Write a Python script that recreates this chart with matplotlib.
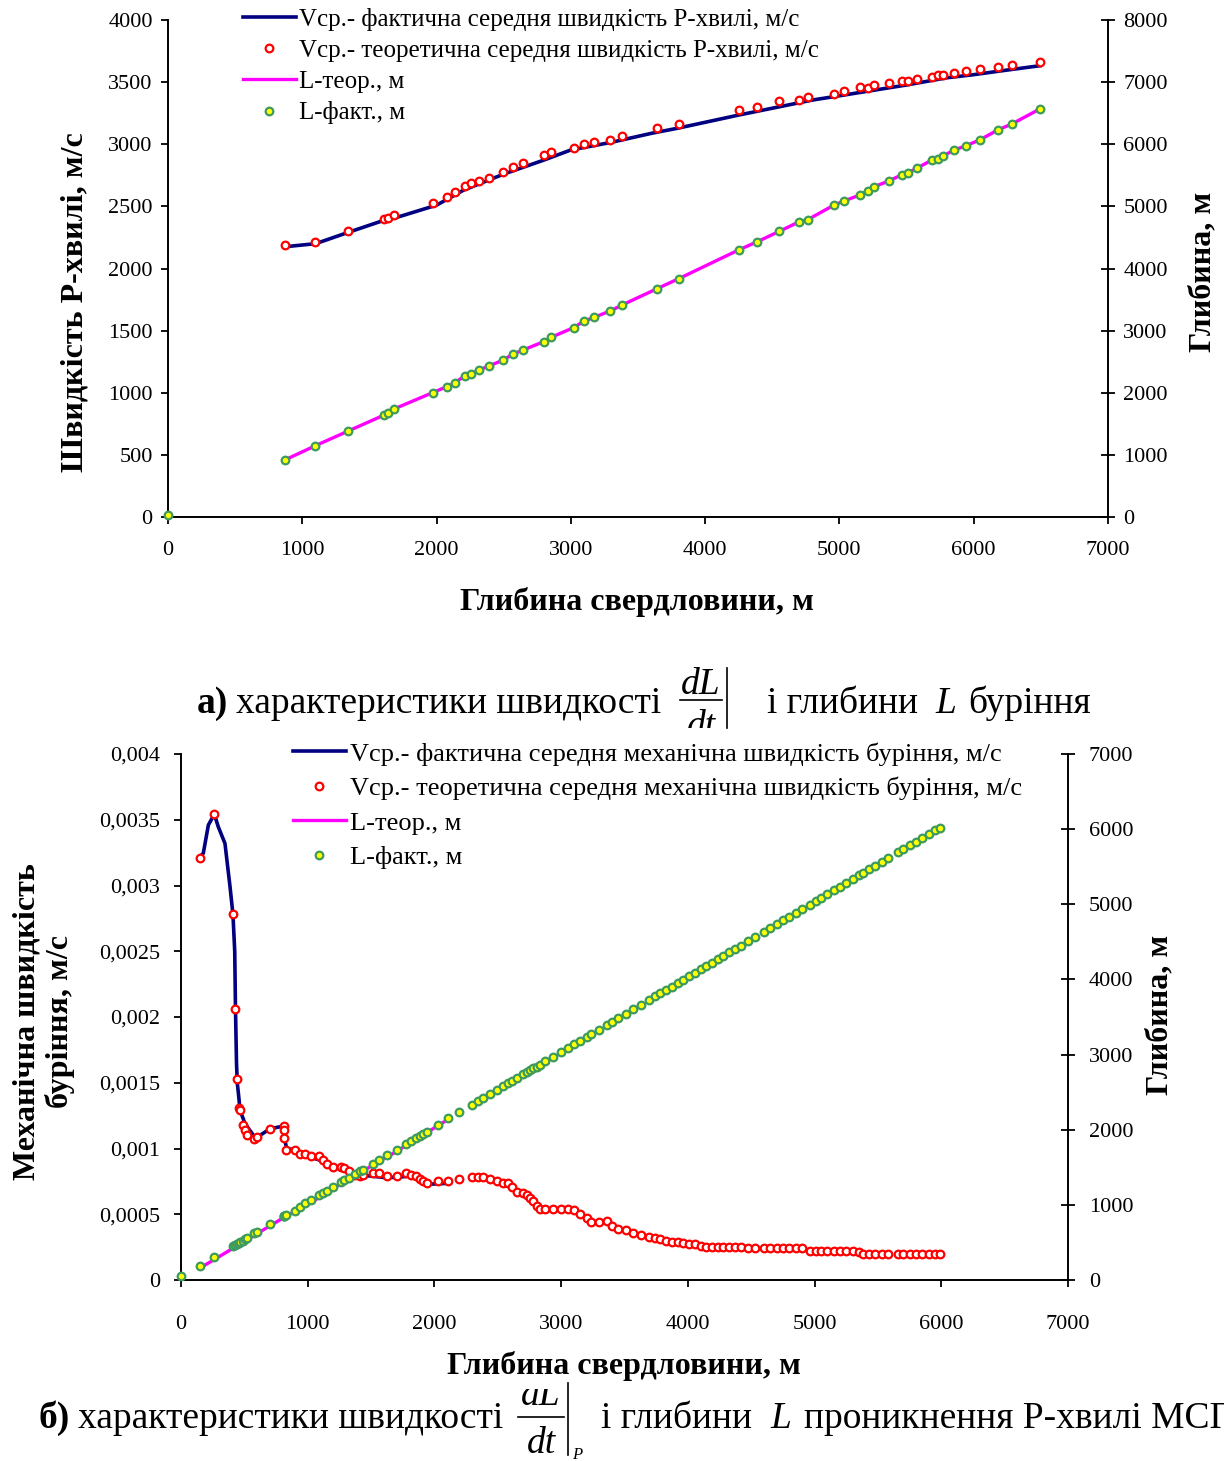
import matplotlib
matplotlib.use("Agg")
import matplotlib.pyplot as plt
from matplotlib.lines import Line2D
from matplotlib.transforms import Bbox

plt.rcParams['font.family'] = ['Liberation Serif', 'DejaVu Serif']

# ---------------- data, chart a) ----------------
depth_a = [870, 1098, 1338, 1605, 1640, 1683, 1970, 2076, 2136, 2210, 2256, 2315,
           2390, 2498, 2569, 2646, 2797, 2854, 3020, 3097, 3174, 3294, 3382, 3638,
           3804, 4250, 4389, 4553, 4702, 4765, 4957, 5036, 5153, 5210, 5255, 5369,
           5466, 5511, 5576, 5686, 5732, 5773, 5850, 5939, 6045, 6180, 6285, 6493]
v_theor_a = [2190, 2213, 2304, 2398, 2405, 2430, 2527, 2575, 2616, 2664, 2688, 2704,
             2728, 2777, 2817, 2849, 2913, 2938, 2970, 3002, 3018, 3034, 3066, 3133,
             3163, 3278, 3297, 3351, 3359, 3378, 3407, 3429, 3458, 3455, 3474, 3493,
             3509, 3509, 3525, 3541, 3555, 3555, 3574, 3590, 3608, 3624, 3640, 3660]
l_fact_a = [918, 1148, 1380, 1637, 1674, 1739, 2001, 2098, 2162, 2270, 2302, 2367,
            2431, 2528, 2624, 2689, 2822, 2893, 3048, 3151, 3215, 3317, 3413, 3671,
            3837, 4299, 4432, 4599, 4754, 4787, 5018, 5088, 5184, 5249, 5313, 5410,
            5511, 5543, 5614, 5743, 5769, 5812, 5904, 5973, 6070, 6231, 6327, 6569]
# magenta line lies on the green points
l_teor_a = l_fact_a
l_fact_a0 = (0, 30)  # single green point at the origin

depth_fact_a = [870, 1100, 1340, 1600, 1700, 2000, 2200, 2500, 2800, 3000, 3300, 3600,
                3800, 4250, 4500, 4800, 5000, 5200, 5500, 5800, 6000, 6200, 6493]
v_fact_a = [2175, 2200, 2290, 2385, 2410, 2510, 2630, 2760, 2873, 2954, 3015, 3088,
            3130, 3235, 3290, 3356, 3390, 3425, 3477, 3535, 3560, 3590, 3632]

# ---------------- data, chart b) ----------------
depth_b = [150, 263, 410, 429, 442, 458, 462, 489, 505, 524,
           579, 597, 705, 810, 813, 816, 831, 897, 937, 981,
           1029, 1087, 1123, 1155, 1200, 1263, 1289, 1326, 1373, 1413,
           1434, 1513, 1565, 1628, 1702, 1776, 1815, 1855, 1886, 1913,
           1939, 2031, 2110, 2197, 2294, 2346, 2386, 2439, 2492, 2544,
           2583, 2610, 2649, 2702, 2728, 2754, 2781, 2807, 2831, 2876,
           2936, 2997, 3058, 3103, 3148, 3208, 3239, 3299, 3360, 3405,
           3450, 3511, 3571, 3632, 3692, 3740, 3782, 3830, 3873, 3920,
           3963, 4010, 4054, 4100, 4145, 4190, 4235, 4280, 4326, 4370,
           4417, 4477, 4530, 4598, 4650, 4700, 4749, 4800, 4850, 4900,
           4960, 5010, 5051, 5100, 5150, 5201, 5250, 5300, 5352, 5383,
           5430, 5480, 5530, 5580, 5655, 5700, 5750, 5800, 5850, 5900,
           5950, 5987]
v_theor_b = [0.00321, 0.00354, 0.00278, 0.00206, 0.00153, 0.00131, 0.00129, 0.00118, 0.00114, 0.00110,
             0.00107, 0.00109, 0.00115, 0.00117, 0.00114, 0.00108, 0.00099, 0.00099, 0.00096, 0.00096,
             0.00094, 0.00094, 0.00091, 0.00088, 0.00086, 0.00086, 0.00085, 0.00083, 0.00080, 0.00079,
             0.00080, 0.00081, 0.00081, 0.00079, 0.00079, 0.00081, 0.00080, 0.00079, 0.00077, 0.00075,
             0.00074, 0.00075, 0.00075, 0.00077, 0.00078, 0.00078, 0.00078, 0.00077, 0.00075, 0.00074,
             0.00074, 0.00071, 0.00067, 0.00066, 0.00065, 0.00062, 0.00060, 0.00056, 0.00054, 0.00054,
             0.00054, 0.00054, 0.00054, 0.00053, 0.00050, 0.00047, 0.00044, 0.00044, 0.00045, 0.00041,
             0.00039, 0.00038, 0.00036, 0.00034, 0.00033, 0.00032, 0.00031, 0.00030, 0.00029, 0.00029,
             0.00028, 0.00027, 0.00027, 0.00026, 0.00025, 0.00025, 0.00025, 0.00025, 0.00025, 0.00025,
             0.00025, 0.00024, 0.00024, 0.00024, 0.00024, 0.00024, 0.00024, 0.00024, 0.00024, 0.00024,
             0.00022, 0.00022, 0.00022, 0.00022, 0.00022, 0.00022, 0.00022, 0.00022, 0.00021, 0.00020,
             0.00020, 0.00020, 0.00020, 0.00020, 0.00020, 0.00020, 0.00020, 0.00020, 0.00020, 0.00020,
             0.00020, 0.00020]
l_fact_b = [190, 302, 457, 470, 482, 495, 500, 525, 540, 560,
            620, 635, 745, 850, 855, 858, 870, 922, 975, 1020,
            1065, 1125, 1160, 1190, 1235, 1300, 1325, 1360, 1410, 1450,
            1470, 1544, 1600, 1660, 1735, 1810, 1850, 1890, 1920, 1945,
            1975, 2063, 2152, 2235, 2330, 2380, 2420, 2475, 2525, 2580,
            2620, 2645, 2685, 2740, 2765, 2790, 2815, 2840, 2865, 2910,
            2970, 3030, 3090, 3135, 3180, 3240, 3270, 3330, 3390, 3440,
            3485, 3545, 3605, 3665, 3725, 3775, 3815, 3865, 3905, 3955,
            3995, 4045, 4090, 4135, 4180, 4225, 4270, 4315, 4360, 4405,
            4450, 4510, 4565, 4630, 4685, 4735, 4785, 4835, 4885, 4935,
            4995, 5045, 5085, 5135, 5185, 5235, 5285, 5335, 5385, 5415,
            5465, 5515, 5565, 5615, 5690, 5735, 5785, 5835, 5885, 5935,
            5985, 6020]
l_fact_b0 = (0, 50)

depth_fact_b = [150, 176, 216, 263, 294, 347, 387, 410, 424, 430, 438, 444, 455, 466,
                505, 579, 624, 702, 807, 815, 834, 900, 1000, 1100, 1200, 1300, 1400,
                1500, 1600, 1700, 1800, 1900, 1950, 2000, 2100]
v_fact_b = [0.00322, 0.003245, 0.00346, 0.003542, 0.003447, 0.00332, 0.00299, 0.00278,
            0.00250, 0.00206, 0.00165, 0.00150, 0.00140, 0.00129, 0.00119, 0.00109,
            0.00110, 0.00115, 0.00117, 0.00108, 0.00100, 0.00099, 0.00094, 0.00091,
            0.00086, 0.00084, 0.00080, 0.00079, 0.00078, 0.00078, 0.00079, 0.00075,
            0.00073, 0.00073, 0.000735]

depth_teor_b = [150, 300, 500, 800, 1018, 1300, 1676, 2110]
l_teor_b = [160, 310, 515, 820, 1021, 1320, 1686, 2140]

x_ticks = [0, 1000, 2000, 3000, 4000, 5000, 6000, 7000]
v_ticks_b = [0, 0.0005, 0.001, 0.0015, 0.002, 0.0025, 0.003, 0.0035, 0.004]
v_ticklabels_b = ['0', '0,0005', '0,001', '0,0015', '0,002', '0,0025', '0,003', '0,0035', '0,004']

labels_a = ['Vср.- фактична середня швидкість Р-хвилі, м/с',
            'Vср.- теоретична середня швидкість Р-хвилі, м/с',
            'L-теор., м', 'L-факт., м']
labels_b = ['Vср.- фактична середня механічна швидкість буріння, м/с',
            'Vср.- теоретична середня механічна швидкість буріння, м/с',
            'L-теор., м', 'L-факт., м']

# ---------------- figure ----------------
W, H = 1224, 1461
fig = plt.figure(figsize=(W / 100, H / 100), dpi=100)


def fx(x):
    return x / W


def fy(y):
    return 1 - y / H


NAVY = '#000080'
MAG = '#ff00ff'
red_kw = dict(ls='none', marker='o', ms=5.5, mfc='white', mec='red', mew=1.6)
green_kw = dict(ls='none', marker='o', ms=5.5, mfc='yellow', mec='#3c9a5f', mew=1.6)
TICK_FS = 16
LAB_FS = 23


def style_axes(ax, ax2, xpad, ypad):
    for a in (ax, ax2):
        a.spines['top'].set_visible(False)
        for s in a.spines.values():
            s.set_linewidth(1.4)
    ax.spines['right'].set_visible(False)
    ax2.spines['left'].set_visible(False)
    ax2.spines['bottom'].set_visible(False)
    ax.tick_params(axis='x', direction='out', length=5, width=1.3,
                   labelsize=TICK_FS, pad=xpad)
    ax.tick_params(axis='y', direction='out', length=5, width=1.3,
                   labelsize=TICK_FS, pad=ypad)
    ax2.tick_params(axis='y', direction='inout', length=10, width=1.3,
                    labelsize=TICK_FS, pad=ypad)


# ---- chart a) ----
ax = fig.add_axes([fx(168), fy(517), fx(940), 497 / H])
ax2 = ax.twinx()
ax.plot(depth_fact_a, v_fact_a, color=NAVY, lw=2.6, label=labels_a[0], zorder=2)
ax.plot(depth_a, v_theor_a, label=labels_a[1], zorder=3, **red_kw)
ax2.plot(depth_a, l_teor_a, color=MAG, lw=2.4, label=labels_a[2], zorder=2)
ax2.plot([l_fact_a0[0]] + depth_a, [l_fact_a0[1]] + l_fact_a, label=labels_a[3],
         clip_on=False, zorder=3, **green_kw)
ax.set_xlim(0, 7000)
ax.set_ylim(0, 4000)
ax2.set_ylim(0, 8000)
ax.set_xticks(x_ticks)
ax.set_yticks(range(0, 4001, 500))
ax2.set_yticks(range(0, 8001, 1000))
style_axes(ax, ax2, 12.5, 6)
h1, _ = ax.get_legend_handles_labels()
h2, _ = ax2.get_legend_handles_labels()
ax2.legend(h1 + h2, labels_a, loc='upper left', bbox_to_anchor=(fx(243), fy(8)),
           bbox_transform=fig.transFigure, frameon=False, fontsize=18,
           handlelength=2.1, handletextpad=0.15, borderpad=0, borderaxespad=0,
           labelspacing=0.34, numpoints=1)

fig.text(fx(75), fy(302), 'Швидкість Р-хвилі, м/с', rotation=90, ha='center',
         va='center', fontsize=LAB_FS, fontweight='bold')
fig.text(fx(1203), fy(272), 'Глибина, м', rotation=90, ha='center', va='center',
         fontsize=LAB_FS, fontweight='bold')
fig.text(fx(637), fy(602), 'Глибина свердловини, м', ha='center', va='center',
         fontsize=LAB_FS, fontweight='bold')

# ---- chart b) ----
bx = fig.add_axes([fx(181), fy(1280), fx(887), 526 / H])
bx2 = bx.twinx()
bx.plot(depth_fact_b, v_fact_b, color=NAVY, lw=2.6, label=labels_b[0], zorder=2)
bx.plot(depth_b, v_theor_b, label=labels_b[1], zorder=3, **red_kw)
bx2.plot(depth_teor_b, l_teor_b, color=MAG, lw=2.4, label=labels_b[2], zorder=2)
bx2.plot([l_fact_b0[0]] + depth_b, [l_fact_b0[1]] + l_fact_b, label=labels_b[3],
         clip_on=False, zorder=3, **green_kw)
bx.set_xlim(0, 7000)
bx.set_ylim(0, 0.004)
bx2.set_ylim(0, 7000)
bx.set_xticks(x_ticks)
bx.set_yticks(v_ticks_b)
bx.set_yticklabels(v_ticklabels_b)
bx2.set_yticks(range(0, 7001, 1000))
style_axes(bx, bx2, 20, 10)
h1, _ = bx.get_legend_handles_labels()
h2, _ = bx2.get_legend_handles_labels()
bx2.legend(h1 + h2, labels_b, loc='upper left', bbox_to_anchor=(fx(293), fy(742)),
           bbox_transform=fig.transFigure, frameon=False, fontsize=19,
           handlelength=2.0, handletextpad=0.15, borderpad=0, borderaxespad=0,
           labelspacing=0.42, numpoints=1)

fig.text(fx(44), fy(1022), 'Механічна швидкість\nбуріння, м/с', rotation=90,
         ha='center', va='center', fontsize=LAB_FS, fontweight='bold',
         multialignment='center', linespacing=1.15)
fig.text(fx(1160), fy(1015), 'Глибина, м', rotation=90, ha='center', va='center',
         fontsize=LAB_FS, fontweight='bold')
fig.text(fx(624), fy(1366), 'Глибина свердловини, м', ha='center', va='center',
         fontsize=LAB_FS, fontweight='bold')

# ---- captions ----
CAP = 27


def frac(xc, y_line, half, bar_x, bar_top, bar_bot, num_up=6, clip_num=None, clip_den=None):
    fig.add_artist(Line2D([fx(xc - half), fx(xc + half)], [fy(y_line), fy(y_line)],
                          transform=fig.transFigure, color='black', lw=1.2))
    fig.add_artist(Line2D([fx(bar_x), fx(bar_x)], [fy(bar_top), fy(bar_bot)],
                          transform=fig.transFigure, color='black', lw=1.2))
    num = fig.text(fx(xc), fy(y_line - num_up), 'dL', ha='center', va='baseline',
                   fontsize=CAP, style='italic')
    den = fig.text(fx(xc), fy(y_line + 36), 'dt', ha='center', va='baseline',
                   fontsize=CAP, style='italic')
    if clip_num is not None:
        num.set_clip_box(Bbox([[0, 0], [W, H - clip_num]]))
        num.set_clip_on(True)
    if clip_den is not None:
        den.set_clip_box(Bbox([[0, H - clip_den], [W, H]]))
        den.set_clip_on(True)


# a)
fig.text(fx(197), fy(713), 'а)', fontsize=CAP, fontweight='bold', va='baseline')
fig.text(fx(236), fy(713), 'характеристики швидкості', fontsize=CAP, va='baseline')
frac(701, 700, 21, 727, 668, 728, clip_den=728)
fig.text(fx(767), fy(713), 'і глибини', fontsize=CAP, va='baseline')
fig.text(fx(935), fy(713), 'L', fontsize=CAP, style='italic', va='baseline')
fig.text(fx(968), fy(713), 'буріння', fontsize=CAP, va='baseline')

# b)
fig.text(fx(38), fy(1428), 'б)', fontsize=CAP, fontweight='bold', va='baseline')
fig.text(fx(78), fy(1428), 'характеристики швидкості', fontsize=CAP, va='baseline')
frac(541, 1417, 23, 568, 1383, 1455, num_up=12, clip_num=1389)
fig.text(fx(572), fy(1459), 'P', fontsize=12, style='italic', va='baseline')
fig.text(fx(601), fy(1428), 'і глибини', fontsize=CAP, va='baseline')
fig.text(fx(770), fy(1428), 'L', fontsize=CAP, style='italic', va='baseline')
fig.text(fx(804), fy(1428), 'проникнення Р-хвилі МСП', fontsize=CAP, va='baseline')

fig.savefig('out.png', dpi=100)
